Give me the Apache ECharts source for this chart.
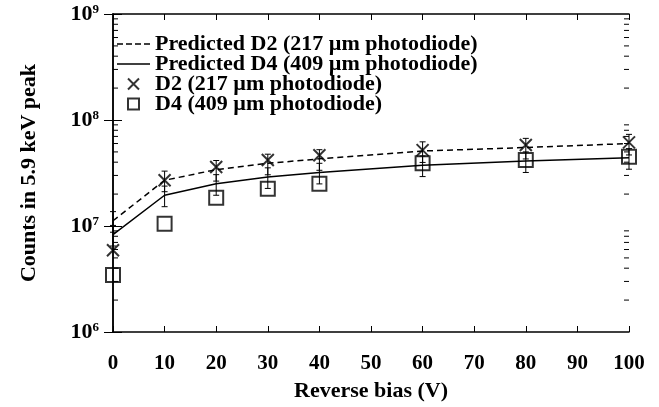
<!DOCTYPE html>
<html>
<head>
<meta charset="utf-8">
<script src="https://cdn.jsdelivr.net/npm/echarts@6/dist/echarts.min.js"></script>
<style>
html,body{margin:0;padding:0;background:#fff;}
#chart{width:659px;height:407px;}
</style>
</head>
<body>
<div id="chart"></div>
<script>
// ---- data ----
var biasV = [0, 10, 20, 30, 40, 60, 80, 100];
var measD2 = [5.9e6, 2.7e7, 3.6e7, 4.2e7, 4.65e7, 5.2e7, 5.8e7, 6.15e7];
var measD4 = [3.45e6, 1.05e7, 1.85e7, 2.25e7, 2.5e7, 3.9e7, 4.2e7, 4.5e7];
var predD2 = [1.12e7, 2.7e7, 3.4e7, 3.9e7, 4.3e7, 5.1e7, 5.5e7, 6.0e7];
var predD4 = [8.3e6, 1.95e7, 2.5e7, 2.9e7, 3.2e7, 3.75e7, 4.1e7, 4.4e7];
var errFrac = [0.22, 0.22, 0.22, 0.22, 0.22, 0.22, 0.22, 0.22];
var xTicks = [0, 10, 20, 30, 40, 50, 60, 70, 80, 90, 100];
var yDecades = [1e6, 1e7, 1e8, 1e9];
var seriesNames = ['Predicted D2 (217 µm photodiode)', 'Predicted D4 (409 µm photodiode)', 'D2 (217 µm photodiode)', 'D4 (409 µm photodiode)'];

var FONT = 'Liberation Serif';
function pairs(xs, ys) { return xs.map(function (x, i) { return [x, ys[i]]; }); }

// minor log ticks (2..9 x 10^n) between decades
var minorTicks = [];
for (var d = 0; d < yDecades.length - 1; d++) {
  for (var m = 2; m <= 9; m++) minorTicks.push([xTicks[0], yDecades[d] * m]);
}

var errData = [];
biasV.forEach(function (x, i) {
  errData.push([x, predD2[i] * (1 - errFrac[i]), predD2[i] * (1 + errFrac[i])]);
  errData.push([x, predD4[i] * (1 - errFrac[i]), predD4[i] * (1 + errFrac[i])]);
});

var crossPath = 'path://M0,0L10,10M10,0L0,10';
var squarePath = 'path://M0,0L10,0L10,10L0,10Z';
var dashIcon = 'path://M0,0h6v1.5h-6z M9,0h6v1.5h-6z M18,0h6v1.5h-6z M27,0h6v1.5h-6z';
var solidIcon = 'path://M0,0h33v1.5h-33z';

var chart = echarts.init(document.getElementById('chart'), null, { renderer: 'canvas' });

var option = {
  animation: false,
  backgroundColor: '#fff',
  textStyle: { fontFamily: FONT, fontWeight: 'bold', color: '#000' },
  grid: { left: 113, right: 30, top: 14, bottom: 73 },
  legend: {
    orient: 'vertical',
    left: 117,
    top: 33,
    itemWidth: 33,
    itemHeight: 11,
    itemGap: -2,
    padding: 0,
    symbolKeepAspect: true,
    textStyle: { fontFamily: FONT, fontWeight: 'bold', fontSize: 22, color: '#000', lineHeight: 20 },
    data: [
      { name: seriesNames[0], icon: dashIcon, itemStyle: { color: '#000', borderWidth: 0 } },
      { name: seriesNames[1], icon: solidIcon, itemStyle: { color: '#000', borderWidth: 0 } },
      { name: seriesNames[2], icon: crossPath },
      { name: seriesNames[3], icon: squarePath }
    ]
  },
  xAxis: [{
    type: 'value', min: xTicks[0], max: xTicks[xTicks.length - 1], interval: 10,
    name: 'Reverse bias (V)', nameLocation: 'middle', nameGap: 48,
    nameTextStyle: { fontFamily: FONT, fontWeight: 'bold', fontSize: 22, color: '#000' },
    axisLine: { show: true, lineStyle: { color: '#000', width: 1.5 } },
    axisTick: { show: true, inside: true, length: 6, lineStyle: { color: '#000', width: 1 } },
    axisLabel: { fontFamily: FONT, fontWeight: 'bold', fontSize: 21, color: '#000', margin: 21 },
    splitLine: { show: false }
  }, {
    type: 'value', position: 'top', min: xTicks[0], max: xTicks[xTicks.length - 1], interval: 10,
    axisLine: { show: true, lineStyle: { color: '#000', width: 1.5 } },
    axisTick: { show: true, inside: true, length: 6, lineStyle: { color: '#000', width: 1 } },
    axisLabel: { show: false }, splitLine: { show: false }
  }],
  yAxis: [{
    type: 'log', logBase: 10, min: yDecades[0], max: yDecades[yDecades.length - 1],
    name: 'Counts in 5.9 keV peak', nameLocation: 'middle', nameGap: 73,
    nameTextStyle: { fontFamily: FONT, fontWeight: 'bold', fontSize: 22, color: '#000' },
    axisLine: { show: true, lineStyle: { color: '#000', width: 1.5 } },
    axisTick: { show: true, inside: true, length: 9, lineStyle: { color: '#000', width: 1 } },
    axisLabel: {
      margin: 14,
      formatter: function (v) {
        var e = Math.round(Math.log10(v));
        return '{b|10}{s|' + e + '}';
      },
      rich: {
        b: { fontFamily: FONT, fontWeight: 'bold', fontSize: 22, color: '#000', verticalAlign: 'bottom', lineHeight: 22 },
        s: { fontFamily: FONT, fontWeight: 'bold', fontSize: 13, color: '#000', verticalAlign: 'top', lineHeight: 22 }
      }
    },
    splitLine: { show: false }
  }, {
    type: 'log', logBase: 10, position: 'right', min: yDecades[0], max: yDecades[yDecades.length - 1],
    axisLine: { show: true, lineStyle: { color: '#000', width: 1.5 } },
    axisTick: { show: true, inside: true, length: 9, lineStyle: { color: '#000', width: 1 } },
    axisLabel: { show: false }, splitLine: { show: false }
  }],
  series: [
    {
      name: seriesNames[0], type: 'line', data: pairs(biasV, predD2), symbol: 'none',
      lineStyle: { color: '#000', width: 1.5, type: [6, 4] }, itemStyle: { color: '#000' }, z: 3
    },
    {
      name: seriesNames[1], type: 'line', data: pairs(biasV, predD4), symbol: 'none',
      lineStyle: { color: '#000', width: 1.5, type: 'solid' }, itemStyle: { color: '#000' }, z: 3
    },
    {
      name: seriesNames[2], type: 'scatter', data: pairs(biasV, measD2), symbol: crossPath, symbolSize: 12,
      itemStyle: { color: 'none', borderColor: '#000', borderWidth: 2 }, z: 4
    },
    {
      name: seriesNames[3], type: 'scatter', data: pairs(biasV, measD4), symbol: squarePath, symbolSize: 14,
      itemStyle: { color: 'none', borderColor: '#000', borderWidth: 2 }, z: 4
    },
    {
      type: 'custom', name: 'err', data: errData, silent: true, z: 2,
      renderItem: function (params, api) {
        var lo = api.coord([api.value(0), api.value(1)]);
        var hi = api.coord([api.value(0), api.value(2)]);
        var w = 3;
        return {
          type: 'group',
          children: [
            { type: 'line', shape: { x1: lo[0], y1: lo[1], x2: hi[0], y2: hi[1] }, style: { stroke: '#000', lineWidth: 1 } },
            { type: 'line', shape: { x1: lo[0] - w, y1: lo[1], x2: lo[0] + w, y2: lo[1] }, style: { stroke: '#000', lineWidth: 1 } },
            { type: 'line', shape: { x1: hi[0] - w, y1: hi[1], x2: hi[0] + w, y2: hi[1] }, style: { stroke: '#000', lineWidth: 1 } }
          ]
        };
      }
    },
    {
      type: 'custom', name: 'minor', data: minorTicks, silent: true, z: 1,
      renderItem: function (params, api) {
        var v = api.value(1);
        var l = api.coord([xTicks[0], v]);
        var r = api.coord([xTicks[xTicks.length - 1], v]);
        var len = 5;
        return {
          type: 'group',
          children: [
            { type: 'line', shape: { x1: l[0], y1: l[1], x2: l[0] + len, y2: l[1] }, style: { stroke: '#000', lineWidth: 1 } },
            { type: 'line', shape: { x1: r[0], y1: r[1], x2: r[0] - len, y2: r[1] }, style: { stroke: '#000', lineWidth: 1 } }
          ]
        };
      }
    }
  ]
};
chart.setOption(option);
</script>
</body>
</html>
